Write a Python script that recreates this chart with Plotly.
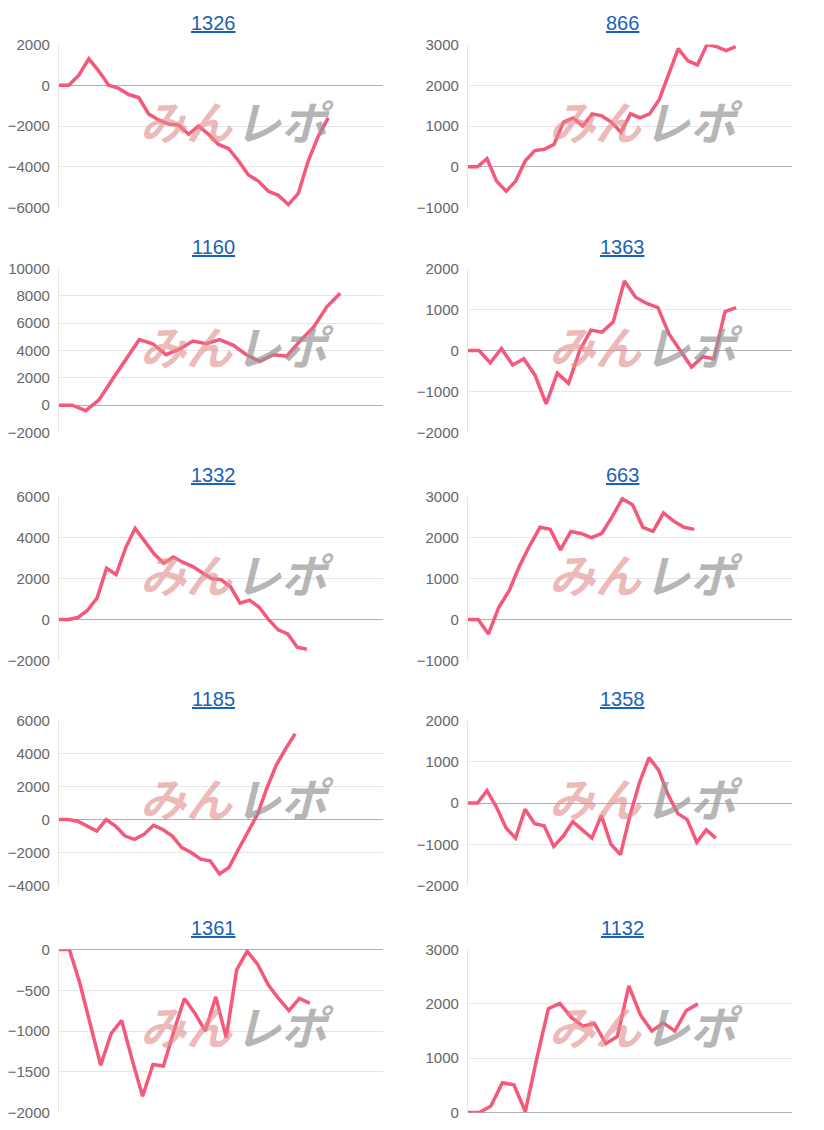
import plotly.graph_objects as go

titles = ["1326", "866", "1160", "1363", "1332", "663", "1185", "1358", "1361", "1132"]

s1326 = [0, 0, 500, 1300, 700, 0, -150, -450, -600, -1400, -1700, -1900, -1950, -2400, -2000, -2400, -2900, -3100, -3700, -4400, -4700, -5200, -5400, -5850, -5300, -3700, -2500, -1600]
s866 = [0, 0, 200, -350, -600, -350, 150, 400, 430, 550, 1100, 1200, 1000, 1300, 1250, 1100, 850, 1300, 1200, 1300, 1650, 2250, 2900, 2600, 2500, 3000, 2950, 2850, 2950]
s1160 = [0, 0, -400, 400, 1900, 3400, 4800, 4500, 3700, 4100, 4700, 4500, 4800, 4400, 3700, 3200, 3700, 3600, 4700, 5700, 7200, 8200]
s1363 = [0, 0, -300, 50, -350, -200, -600, -1300, -550, -800, 0, 500, 450, 700, 1700, 1300, 1150, 1050, 400, 0, -400, -150, -200, 950, 1050]
s1332 = [0, 0, 100, 450, 1050, 2500, 2200, 3500, 4450, 3800, 3200, 2750, 3050, 2800, 2600, 2300, 2000, 1950, 1600, 800, 950, 600, 0, -500, -700, -1350, -1450]
s663 = [0, 0, -350, 300, 700, 1300, 1800, 2250, 2200, 1700, 2150, 2100, 2000, 2100, 2500, 2950, 2800, 2250, 2150, 2600, 2400, 2250, 2200]
s1185 = [0, 0, -100, -400, -700, 0, -400, -1000, -1200, -900, -350, -600, -1000, -1700, -2000, -2400, -2500, -3300, -2900, -1800, -800, 300, 1900, 3300, 4300, 5200]
s1358 = [0, 0, 300, -100, -600, -850, -150, -500, -550, -1050, -800, -450, -650, -850, -300, -1000, -1250, -300, 500, 1100, 800, 200, -250, -400, -950, -650, -850]
s1361 = [0, 0, -410, -900, -1420, -1030, -870, -1350, -1800, -1410, -1430, -1000, -600, -780, -1000, -580, -1080, -250, -20, -180, -430, -600, -750, -600, -660]
s1132 = [0, 0, 120, 550, 510, 20, 1000, 1910, 2010, 1750, 1590, 1640, 1270, 1400, 2330, 1800, 1500, 1650, 1500, 1880, 2000]

series = [s1326, s866, s1160, s1363, s1332, s663, s1185, s1358, s1361, s1132]
yranges = [(-6000, 2000, 2000), (-1000, 3000, 1000), (-2000, 10000, 2000), (-2000, 2000, 1000),
           (-2000, 6000, 2000), (-1000, 3000, 1000), (-4000, 6000, 2000), (-2000, 2000, 1000),
           (-2000, 0, 500), (0, 3000, 1000)]
xmax = [32.5, 33.9, 24.2, 29, 34, 31.5, 34.3, 34, 31, 28.2]

W, H = 824, 1130


def cy(y):
    return (y - 16.4) / 0.985


cols = [(49, 374), (459, 784)]
title_x = [204, 614]
rows = [(44, 207), (268, 432), (496, 660), (720, 885), (949, 1112)]

fig = go.Figure()
annotations = []
for i, (t, s) in enumerate(zip(titles, series)):
    r, c = divmod(i, 2)
    k = "" if i == 0 else str(i + 1)
    x0, x1 = cols[c]
    y0, y1 = rows[r]
    fig.add_trace(go.Scatter(x=list(range(len(s))), y=s, mode="lines",
                             line=dict(color="#f5587a", width=3.5), xaxis="x" + k, yaxis="y" + k,
                             showlegend=False, hoverinfo="skip"))
    lo, hi, dt = yranges[i]
    fig.layout["xaxis" + k] = dict(domain=[x0 / W, x1 / W], range=[0, xmax[i]], showticklabels=False,
                                   showgrid=False, zeroline=False, showline=False, anchor="y" + k)
    fig.layout["yaxis" + k] = dict(domain=[1 - cy(y1) / H, 1 - cy(y0) / H], range=[lo, hi], dtick=dt, tickformat="d",
                                   gridcolor="#e6e6e6", zeroline=True, zerolinecolor="#b0b0b0",
                                   zerolinewidth=1, showline=True, linecolor="#e6e6e6",
                                   tickfont=dict(family="Liberation Sans", size=15, color="#666"),
                                   ticks="", ticklabelstandoff=5, anchor="x" + k)
    annotations.append(dict(text="<u>%s</u>" % t, x=title_x[c] / W, y=1 - cy(y0 - 22) / H, xref="paper",
                            yref="paper", showarrow=False, font=dict(family="Arial", size=20, color="#1a62b5"),
                            xanchor="center", yanchor="middle"))
    wy = 1 - cy((y0 + y1) / 2 - 6) / H
    annotations.append(dict(text="<b><i>みん</i></b>", x=(x0 + 128) / W, y=wy, xref="paper", yref="paper",
                            showarrow=False, font=dict(family="Noto Sans CJK JP", size=46, color="rgba(225,140,140,0.6)"),
                            xanchor="center", yanchor="middle"))
    annotations.append(dict(text="<b><i>レポ</i></b>", x=(x0 + 226) / W, y=wy, xref="paper", yref="paper",
                            showarrow=False, font=dict(family="Noto Sans CJK JP", size=46, color="rgba(150,150,150,0.7)"),
                            xanchor="center", yanchor="middle"))

fig.update_layout(width=W, height=H, margin=dict(l=0, r=0, t=0, b=0), paper_bgcolor="white",
                  plot_bgcolor="white", annotations=annotations)
fig.write_html("out.html")
